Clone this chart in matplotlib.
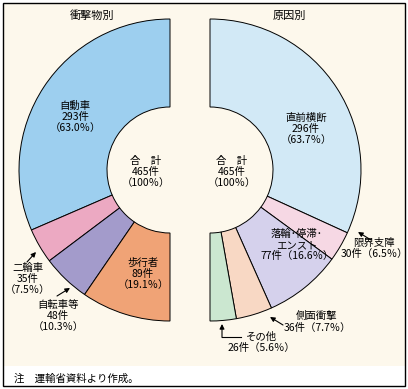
import matplotlib.pyplot as plt
from matplotlib.patches import Rectangle

plt.rcParams['font.family'] = ['Noto Sans CJK JP', 'DejaVu Sans']

# 衝撃物別
impact_names = ['自動車', '二輪車', '自転車等', '歩行者']
impact_counts = [293, 35, 48, 89]
impact_pcts = [63.0, 7.5, 10.3, 19.1]
impact_colors = ['#9dcfef', '#eca9c2', '#a39bcb', '#f0a376']

# 原因別
cause_names = ['直前横断', '限界支障', '落輪･停滞･\nエンスト', '側面衝撃', 'その他']
cause_counts = [296, 30, 77, 36, 26]
cause_pcts = [63.7, 6.5, 16.6, 7.7, 5.6]
cause_colors = ['#d2e9f6', '#f6d8e4', '#d5d1ec', '#f8d8c4', '#cbe7d0']

total = 465
H = 389  # figure height in px, text positions below are measured from top

fig = plt.figure(figsize=(4.08, 3.89), dpi=100)
ax = fig.add_axes([0, 0, 1, 1])

# background and frame
ax.add_patch(Rectangle((3, H - 366), 402, 363, facecolor='#fdf8ec', edgecolor='none', zorder=0))
ax.add_patch(Rectangle((3, H - 386), 402, 383, facecolor='none', edgecolor='black', lw=1.0, zorder=5))


def half_donut(counts, colors, center, counterclock):
    vals = counts + [sum(counts)]  # invisible other half
    wedges, _ = ax.pie(vals, colors=colors + ['white'], startangle=90,
                       counterclock=counterclock, radius=151, center=center,
                       frame=True,
                       wedgeprops=dict(width=88, edgecolor='black', linewidth=0.7))
    wedges[-1].set_visible(False)


half_donut(impact_counts, impact_colors, (170, H - 170), True)
half_donut(cause_counts, cause_colors, (210, H - 170), False)

ax.set_xlim(0, 408)
ax.set_ylim(0, H)
ax.set_aspect('equal')
ax.set_axis_off()

fs = 7.5
ls = 1.12


def label(x, y, s, size=fs, ha='center'):
    ax.text(x, H - y, s, ha=ha, va='center', fontsize=size, linespacing=ls, zorder=6)


def arrow(x0, y0, x1, y1):
    ax.annotate('', xy=(x1, H - y1), xytext=(x0, H - y0),
                arrowprops=dict(arrowstyle='-|>', color='black', lw=0.8,
                                mutation_scale=7, shrinkA=0, shrinkB=0), zorder=6)


label(92, 16, '衝撃物別', size=8.0)
label(289, 16, '原因別', size=8.0)

label(146, 172, '合　計\n%d件\n（100％）' % total)
label(232, 172, '合　計\n%d件\n（100％）' % total)

# 衝撃物別 labels
imp_pos = [(75, 117), (28, 279), (58, 316), (143, 274)]
for (x, y), n, c, p in zip(imp_pos, impact_names, impact_counts, impact_pcts):
    label(x, y, '%s\n%d件\n（%.1f％）' % (n, c, p))

arrow(27, 262, 36, 252)
arrow(57, 296, 70, 288)

# 原因別 labels
label(306, 129, '%s\n%d件\n（%.1f％）' % (cause_names[0], cause_counts[0], cause_pcts[0]))
label(297, 245, '%s\n%d件（%.1f％）' % (cause_names[2], cause_counts[2], cause_pcts[2]))
label(374, 248, '%s\n%d件（%.1f％）' % (cause_names[1], cause_counts[1], cause_pcts[1]))
label(317, 322, '%s\n%d件（%.1f％）' % (cause_names[3], cause_counts[3], cause_pcts[3]))
label(261, 342, '%s\n%d件（%.1f％）' % (cause_names[4], cause_counts[4], cause_pcts[4]))

arrow(371, 240, 358, 232)
arrow(283, 325, 270, 317)
ax.plot([241, 222], [H - 337, H - 337], color='black', lw=0.8, zorder=6)
arrow(222, 337.4, 222, 324)

label(14, 379, '注　運輸省資料より作成。', ha='left')

fig.savefig('out.png', dpi=100)
